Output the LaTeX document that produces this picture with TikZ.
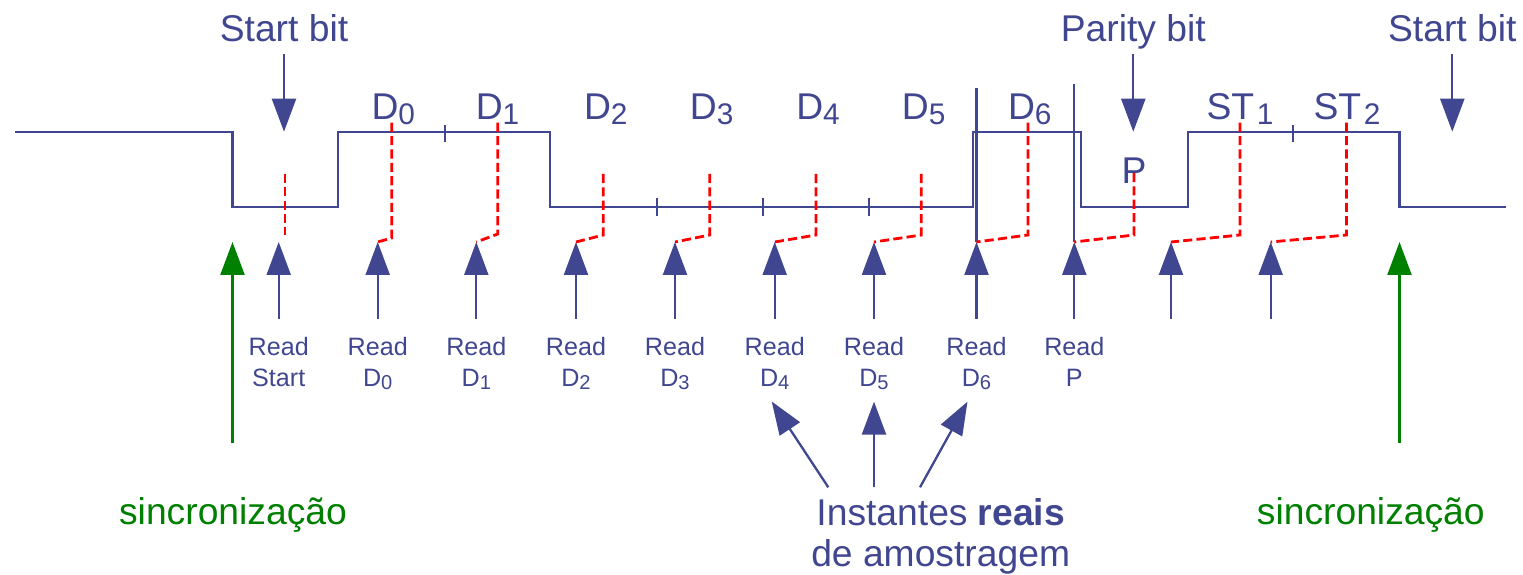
\documentclass[tikz,border=0pt]{standalone}
\usepackage{fontspec}
\setmainfont{Liberation Sans}
\usepackage{graphicx}
\usetikzlibrary{arrows.meta}
\definecolor{sigblue}{RGB}{64,70,143}
\definecolor{syncgreen}{RGB}{0,128,0}
\newcommand{\lowidx}[1]{\raisebox{-0.13em}{\scalebox{0.8}{#1}}}

\begin{document}
\begin{tikzpicture}[
    sig/.style={sigblue, line width=0.65pt},
    pointer/.style={sigblue, line width=0.65pt, -{Triangle[length=3.3mm, width=2.4mm]}},
    syncptr/.style={syncgreen, line width=0.65pt, -{Triangle[length=3.3mm, width=2.4mm]}},
    sample/.style={red, line width=0.8pt, dash pattern=on 2.6pt off 1.2pt},
    biglbl/.style={sigblue, inner sep=0pt, anchor=base, font=\fontsize{10.6}{12.7}\selectfont},
    toplbl/.style={biglbl, text depth=0pt, inner ysep=0.116cm},
    readlbl/.style={sigblue, anchor=north, align=center, inner xsep=0pt, inner ysep=0.18cm,
      font=\fontsize{7.15}{8.7}\selectfont},
    synclbl/.style={syncgreen, inner sep=0pt, anchor=base, font=\fontsize{10.6}{12.7}\selectfont}
  ]
    \useasboundingbox (0,0) rectangle (15.23,5.74);

    % transmitted frame
    \draw[sig] (0.15,4.42) -- (2.325,4.42) -- (2.325,3.67) -- (3.38,3.67) -- (3.38,4.42)
      -- (5.50,4.42) -- (5.50,3.67) -- (9.73,3.67) -- (9.73,4.42) -- (10.81,4.42)
      -- (10.81,3.67) -- (11.88,3.67) -- (11.88,4.42) -- (13.995,4.42) -- (13.995,3.67)
      -- (15.06,3.67);
    \foreach \x in {4.45, 12.93} \draw[sig] (\x,4.49) -- (\x,4.32);
    \foreach \x in {6.57, 7.63, 8.69} \draw[sig] (\x,3.76) -- (\x,3.58);

    % bit labels
    \node[biglbl] (ld0) at (3.933,4.547) {D\lowidx{0}};
    \node[biglbl] (ld1) at (4.975,4.547) {D\lowidx{1}};
    \node[biglbl] (ld2) at (6.058,4.547) {D\lowidx{2}};
    \node[biglbl] (ld3) at (7.117,4.547) {D\lowidx{3}};
    \node[biglbl] (ld4) at (8.180,4.547) {D\lowidx{4}};
    \node[biglbl] (ld5) at (9.237,4.547) {D\lowidx{5}};
    \node[biglbl] (ld6) at (10.298,4.547) {D\lowidx{6}};
    \node[biglbl] (lp) at (11.340,3.907) {P};
    \node[biglbl] (ls1) at (12.400,4.547) {ST\kern0.07em\lowidx{1}};
    \node[biglbl] (ls2) at (13.470,4.547) {ST\kern0.07em\lowidx{2}};

    % start and parity bits
    \node[toplbl] (sbl) at (2.84,5.323) {Start bit};
    \node[toplbl] (pbl) at (11.333,5.323) {Parity bit};
    \node[toplbl] (sbr) at (14.523,5.323) {Start bit};
    \coordinate (sblt) at (2.84,4.423);
    \coordinate (pblt) at (11.333,4.423);
    \coordinate (sbrt) at (14.523,4.423);
    \draw[pointer] (sbl) -- (sblt);
    \draw[pointer] (pbl) -- (pblt);
    \draw[pointer] (sbr) -- (sbrt);

    % read instants
    \coordinate (tst) at (2.787,3.32);
    \coordinate (t0) at (3.777,3.32);
    \coordinate (t1) at (4.763,3.32);
    \coordinate (t2) at (5.760,3.32);
    \coordinate (t3) at (6.750,3.32);
    \coordinate (t4) at (7.747,3.32);
    \coordinate (t5) at (8.740,3.32);
    \coordinate (t6) at (9.765,3.32);
    \coordinate (tp) at (10.743,3.32);
    \coordinate (ts1) at (11.710,3.32);
    \coordinate (ts2) at (12.707,3.32);
    \node[readlbl] (rst) at (2.787,2.55) {Read\\Start};
    \node[readlbl] (rd0) at (3.777,2.55) {Read\\D\lowidx{0}};
    \node[readlbl] (rd1) at (4.763,2.55) {Read\\D\lowidx{1}};
    \node[readlbl] (rd2) at (5.760,2.55) {Read\\D\lowidx{2}};
    \node[readlbl] (rd3) at (6.750,2.55) {Read\\D\lowidx{3}};
    \node[readlbl] (rd4) at (7.747,2.55) {Read\\D\lowidx{4}};
    \node[readlbl] (rd5) at (8.740,2.55) {Read\\D\lowidx{5}};
    \node[readlbl] (rd6) at (9.765,2.55) {Read\\D\lowidx{6}};
    \node[readlbl] (rp) at (10.743,2.55) {Read\\P};
    \coordinate (bs1) at (11.710,2.55);
    \coordinate (bs2) at (12.707,2.55);
    \draw[pointer] (rst) -- (tst);
    \draw[pointer] (rd0) -- (t0);
    \draw[pointer] (rd1) -- (t1);
    \draw[pointer] (rd2) -- (t2);
    \draw[pointer] (rd3) -- (t3);
    \draw[pointer] (rd4) -- (t4);
    \draw[pointer] (rd5) -- (t5);
    \draw[pointer] (rd6) -- (t6);
    \draw[pointer] (rp) -- (tp);
    \draw[pointer] (bs1) -- (ts1);
    \draw[pointer] (bs2) -- (ts2);
    \draw[sig] (t6) -- (9.765,4.86);
    \draw[sig] (tp) -- (10.743,4.90);

    % sampling offsets
    \draw[sample] (2.85,4.00) -- (2.85,3.39);
    \draw[sample] (3.917,4.513) -- (3.917,3.36) -- (t0);
    \draw[sample] (4.977,4.513) -- (4.977,3.40) -- (t1);
    \draw[sample] (6.033,4.00) -- (6.033,3.39) -- (t2);
    \draw[sample] (7.097,4.00) -- (7.097,3.39) -- (t3);
    \draw[sample] (8.160,4.00) -- (8.160,3.39) -- (t4);
    \draw[sample] (9.213,4.00) -- (9.213,3.39) -- (t5);
    \draw[sample] (10.280,4.513) -- (10.280,3.39) -- (t6);
    \draw[sample] (11.340,4.01) -- (11.340,3.39) -- (tp);
    \draw[sample] (12.400,4.513) -- (12.400,3.39) -- (ts1);
    \draw[sample] (13.465,4.513) -- (13.465,3.39) -- (ts2);

    % synchronisation
    \coordinate (gl) at (2.325,3.32);
    \coordinate (glb) at (2.325,1.307);
    \coordinate (gr) at (13.995,3.32);
    \coordinate (grb) at (13.995,1.307);
    \draw[syncptr] (glb) -- (gl);
    \draw[syncptr] (grb) -- (gr);
    \node[synclbl] (syncl) at (2.33,0.49) {sincronização};
    \node[synclbl] (syncr) at (13.708,0.49) {sincronização};

    % real sampling instants
    \node[sigblue, anchor=north, align=center, inner sep=0pt, font=\fontsize{10.6}{11.4}\selectfont]
      (inst) at (9.407,0.757) {Instantes \textbf{reais}\\de amostragem};
    \coordinate (ia) at (8.283,0.867);
    \coordinate (ib) at (8.740,0.867);
    \coordinate (ic) at (9.200,0.867);
    \draw[pointer] (ia) -- ([xshift=-0.03cm, yshift=0.07cm]rd4.south);
    \draw[pointer] (ib) -- ([yshift=0.07cm]rd5.south);
    \draw[pointer] (ic) -- ([xshift=-0.09cm, yshift=0.07cm]rd6.south);
  \end{tikzpicture}
\end{document}
